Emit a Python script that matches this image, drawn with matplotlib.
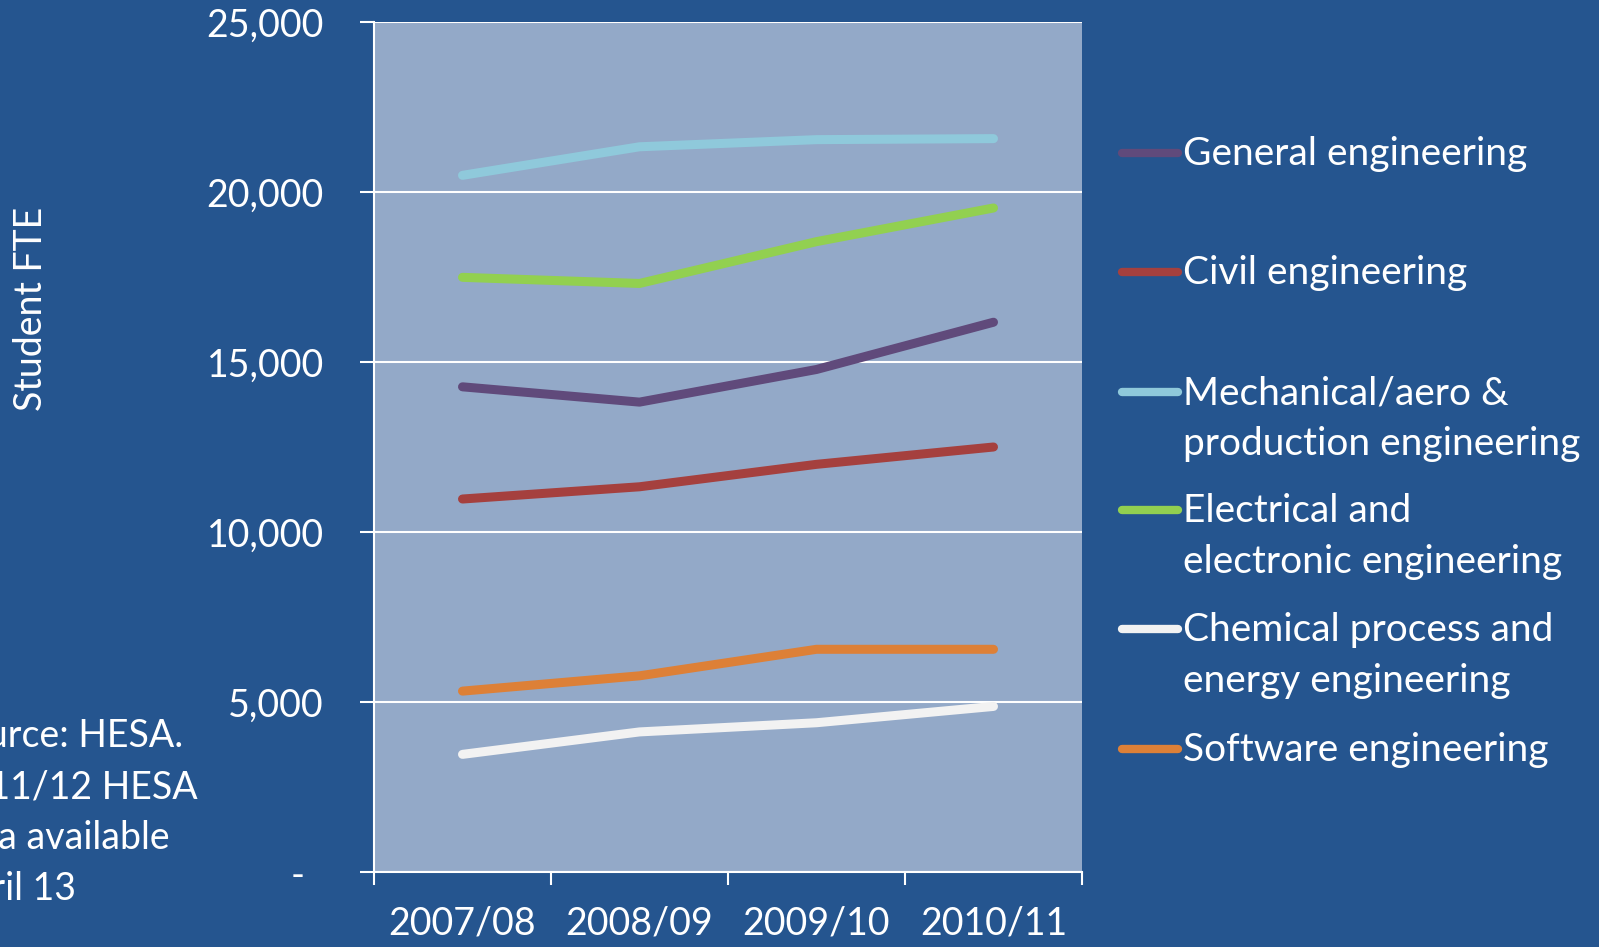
"""Student FTE by engineering discipline, 2007/08 to 2010/11 (HESA)."""

import matplotlib

matplotlib.use("Agg")
from matplotlib import pyplot as plt
from matplotlib.lines import Line2D
from matplotlib.ticker import FixedLocator, FuncFormatter

YEARS = ["2007/08", "2008/09", "2009/10", "2010/11"]

GENERAL = [14270, 13820, 14780, 16170]
CIVIL = [10970, 11330, 11990, 12500]
MECHANICAL = [20490, 21330, 21540, 21570]
ELECTRICAL = [17490, 17310, 18540, 19530]
CHEMICAL = [3460, 4120, 4390, 4870]
SOFTWARE = [5320, 5770, 6550, 6550]

LABELS = [
    "General engineering",
    "Civil engineering",
    "Mechanical/aero &\nproduction engineering",
    "Electrical and\nelectronic engineering",
    "Chemical process and\nenergy engineering",
    "Software engineering",
]
COLORS = ["#604a7b", "#a5403e", "#8fc9db", "#92d050", "#f2f2f2", "#dd8037"]

SOURCE_NOTE = ["Source: HESA.", "2011/12 HESA", "data available", "April 13"]

BG = "#25558f"
PLOT_BG = "#93a9c8"
FONT = "Lato"

W, H = 1599, 947


def fx(px):
    return px / W


def fy(py):
    return 1 - py / H


fig = plt.figure(figsize=(W / 100, H / 100), dpi=100, facecolor=BG)
ax = fig.add_axes([fx(374), fy(872), fx(1082) - fx(374), fy(22) - fy(872)])
ax.set_facecolor(PLOT_BG)

series = [GENERAL, CIVIL, MECHANICAL, ELECTRICAL, CHEMICAL, SOFTWARE]
for values, color, label in zip(series, COLORS, LABELS):
    ax.plot(
        range(len(YEARS)),
        values,
        color=color,
        linewidth=6.5,
        solid_capstyle="round",
        solid_joinstyle="round",
        label=label,
        zorder=3,
    )

ax.set_xlim(-0.5, len(YEARS) - 0.5)
ax.set_ylim(0, 25000)

# x: labels at centres, ticks on category boundaries
ax.set_xticks(range(len(YEARS)))
ax.set_xticklabels(YEARS, fontsize=27, color="white", family=FONT)
ax.tick_params(axis="x", which="major", length=0, pad=24)
ax.xaxis.set_minor_locator(FixedLocator([i - 0.5 for i in range(len(YEARS) + 1)]))
ax.tick_params(axis="x", which="minor", length=9, width=1.5, color="white",
               direction="out")

ax.yaxis.set_major_locator(FixedLocator(range(0, 25001, 5000)))
ax.yaxis.set_major_formatter(
    FuncFormatter(lambda v, _: "-  " if v == 0 else f"{int(v):,}")
)
ax.tick_params(axis="y", length=10, width=1.5, color="white", direction="out",
               pad=26, labelsize=27, labelcolor="white")
for t in ax.get_yticklabels():
    t.set_family(FONT)

ax.grid(axis="y", color="white", linewidth=1.5, zorder=1)
ax.set_axisbelow(True)
for side in ["top", "right"]:
    ax.spines[side].set_visible(False)
for side in ["left", "bottom"]:
    ax.spines[side].set_color("white")
    ax.spines[side].set_linewidth(1.5)

fig.text(fx(31), fy(309), "Student FTE", rotation=90, ha="center", va="center",
         fontsize=27, color="white", family=FONT)

# legend drawn by hand so the handle sits on the first line of each label
entry_y = [153, 272, 392, 510, 629, 749]
for y, color, label in zip(entry_y, COLORS, LABELS):
    fig.add_artist(Line2D([fx(1122), fx(1178)], [fy(y), fy(y)], color=color,
                          linewidth=6, solid_capstyle="round"))
    for i, line in enumerate(label.split("\n")):
        fig.text(fx(1183), fy(y + 12 + i * 51), line, ha="left", va="baseline",
                 fontsize=28, color="white", family=FONT)

# source note, partly off the left edge as in the original slide
for i, line in enumerate(SOURCE_NOTE):
    fig.text(fx(-55), fy(747 + i * 51), line, ha="left", va="baseline",
             fontsize=27, color="white", family=FONT)

fig.savefig("out.png", dpi=100, facecolor=BG)
